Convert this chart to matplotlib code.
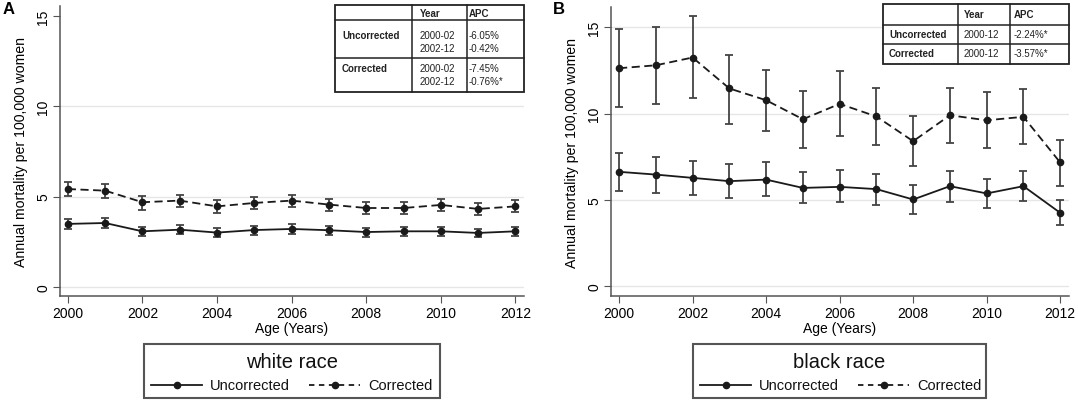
import numpy as np
import matplotlib.pyplot as plt
from matplotlib.patches import Rectangle
from matplotlib.lines import Line2D

plt.rcParams['font.family'] = ['Liberation Sans', 'DejaVu Sans']

# Data
years = np.arange(2000, 2013)

white_unc = [3.49, 3.54, 3.08, 3.17, 3.01, 3.15, 3.21, 3.14, 3.04, 3.08, 3.08, 2.99, 3.08]
white_unc_lo = [3.21, 3.27, 2.82, 2.91, 2.76, 2.90, 2.95, 2.89, 2.79, 2.83, 2.83, 2.75, 2.83]
white_unc_hi = [3.77, 3.81, 3.34, 3.43, 3.26, 3.40, 3.47, 3.39, 3.29, 3.33, 3.33, 3.23, 3.33]

white_cor = [5.42, 5.33, 4.69, 4.78, 4.46, 4.65, 4.78, 4.56, 4.37, 4.37, 4.54, 4.32, 4.46]
white_cor_lo = [5.02, 4.93, 4.28, 4.41, 4.11, 4.30, 4.43, 4.22, 4.04, 4.04, 4.20, 3.99, 4.13]
white_cor_hi = [5.79, 5.70, 5.02, 5.09, 4.82, 5.00, 5.11, 4.89, 4.71, 4.71, 4.87, 4.65, 4.79]

black_unc = [6.63, 6.47, 6.28, 6.09, 6.18, 5.70, 5.76, 5.63, 5.03, 5.80, 5.38, 5.80, 4.26]
black_unc_lo = [5.55, 5.43, 5.28, 5.09, 5.22, 4.80, 4.86, 4.74, 4.22, 4.91, 4.55, 4.93, 3.55]
black_unc_hi = [7.69, 7.51, 7.26, 7.07, 7.17, 6.63, 6.71, 6.51, 5.86, 6.69, 6.20, 6.69, 5.01]

black_cor = [12.62, 12.79, 13.24, 11.45, 10.77, 9.67, 10.56, 9.83, 8.40, 9.90, 9.61, 9.81, 7.17]
black_cor_lo = [10.39, 10.58, 10.87, 9.42, 8.98, 8.02, 8.71, 8.17, 6.97, 8.30, 7.98, 8.23, 5.82]
black_cor_hi = [14.86, 14.99, 15.65, 13.41, 12.50, 11.31, 12.45, 11.48, 9.83, 11.48, 11.25, 11.39, 8.46]

white_table = [['', 'Year', 'APC'],
               ['Uncorrected', '2000-02\n2002-12', '-6.05%\n-0.42%'],
               ['Corrected', '2000-02\n2002-12', '-7.45%\n-0.76%*']]
black_table = [['', 'Year', 'APC'],
               ['Uncorrected', '2000-12', '-2.24%*'],
               ['Corrected', '2000-12', '-3.57%*']]

W, H = 1078, 402
fig = plt.figure(figsize=(W / 100, H / 100), dpi=100)

DASH = (0, (4.5, 2.5))


def fx(px):
    return px / W


def fy(py):
    return 1 - py / H


def draw_panel(rect, ylim, xlim, grid_vals, unc, unc_lo, unc_hi, cor, cor_lo, cor_hi):
    ax = fig.add_axes(rect)
    for g in grid_vals:
        ax.axhline(g, color='#e6e6e6', lw=1.0, zorder=0)
    for vals, lo, hi, ls in [(unc, unc_lo, unc_hi, '-'), (cor, cor_lo, cor_hi, DASH)]:
        vals = np.array(vals)
        yerr = [vals - np.array(lo), np.array(hi) - vals]
        ax.errorbar(years, vals, yerr=yerr, fmt='none', ecolor='#444444',
                    elinewidth=1.3, capsize=3, capthick=1.3, zorder=2)
        ax.plot(years, vals, color='#1a1a1a', lw=1.3, linestyle=ls,
                marker='o', markersize=4.5, zorder=3)
    ax.set_xlim(*xlim)
    ax.set_ylim(*ylim)
    ax.set_xticks(range(2000, 2013, 2))
    ax.set_yticks([0, 5, 10, 15])
    ax.tick_params(axis='y', labelrotation=90, length=5, color='#555555', labelsize=10, pad=2)
    ax.tick_params(axis='x', length=5, color='#555555', labelsize=10, pad=2)
    for lab in ax.get_yticklabels():
        lab.set_va('center')
    for s in ['top', 'right']:
        ax.spines[s].set_visible(False)
    for s in ['left', 'bottom']:
        ax.spines[s].set_color('#555555')
        ax.spines[s].set_linewidth(1.1)
    ax.set_xlabel('Age (Years)', fontsize=10, labelpad=1)
    ax.set_ylabel('Annual mortality per 100,000 women', fontsize=10.2, labelpad=6)
    return ax


def draw_table(cells, x_edges, y_edges, line_rows, pads):
    x0, x1 = x_edges[0], x_edges[-1]
    y0, y1 = y_edges[0], y_edges[-1]
    fig.patches.append(Rectangle((fx(x0), fy(y1)), fx(x1 - x0), (y1 - y0) / H,
                                 transform=fig.transFigure, facecolor='white',
                                 edgecolor='#222222', lw=1.3, zorder=5))
    for xe in x_edges[1:-1]:
        fig.add_artist(Line2D([fx(xe), fx(xe)], [fy(y0), fy(y1)], color='#222222', lw=1.1, zorder=6))
    for ye in y_edges[1:-1]:
        fig.add_artist(Line2D([fx(x0), fx(x1)], [fy(ye), fy(ye)], color='#222222', lw=1.1, zorder=6))
    for r, row in enumerate(cells):
        for c, txt in enumerate(row):
            if not txt:
                continue
            weight = 'bold' if (r == 0 or c == 0) else 'normal'
            fig.text(fx(x_edges[c] + pads[c]), fy(line_rows[r]), txt, fontsize=7.0, fontweight=weight,
                     va='top', ha='left', linespacing=1.35, zorder=7, color='#222222')


def draw_legend(title, x0, x1, y0=345, y1=399):
    fig.patches.append(Rectangle((fx(x0), fy(y1)), fx(x1 - x0), (y1 - y0) / H,
                                 transform=fig.transFigure, facecolor='white',
                                 edgecolor='#555555', lw=1.5, zorder=5))
    fig.text(fx((x0 + x1) / 2), fy(363), title, fontsize=14.5, ha='center', va='center',
             color='#111111', zorder=6)
    ym = 386
    for (h0, h1, tx), lab, ls in [((7, 58, 66), 'Uncorrected', '-'), ((165, 216, 224), 'Corrected', (0, (3, 2.5)))]:
        fig.add_artist(Line2D([fx(x0 + h0), fx(x0 + (h0 + h1) / 2), fx(x0 + h1)], [fy(ym)] * 3,
                              color='#1a1a1a', lw=1.3, linestyle=ls, marker='o', markersize=4.5,
                              markevery=[1], zorder=6))
        fig.text(fx(x0 + tx), fy(ym), lab, fontsize=10.5, ha='left', va='center',
                 color='#111111', zorder=6)


# Panel A: white race
axA = draw_panel([fx(60), fy(297), fx(524 - 60), (297 - 7) / H], (-0.5, 15.55),
                 (1999.79, 2012.23), [0, 5, 10],
                 white_unc, white_unc_lo, white_unc_hi, white_cor, white_cor_lo, white_cor_hi)
# Panel B: black race
axB = draw_panel([fx(611), fy(297), fx(1069 - 611), (297 - 8) / H], (-0.55, 16.16),
                 (1999.78, 2012.24), [0, 5, 10, 15],
                 black_unc, black_unc_lo, black_unc_hi, black_cor, black_cor_lo, black_cor_hi)

draw_table(white_table, [335, 412, 467, 524], [6, 21, 59, 93], [9, 31, 64], [7, 8, 2])
draw_table(black_table, [883, 958, 1010, 1069], [5, 26, 45, 65], [10, 30, 49], [6, 6, 4])

fig.text(fx(3), fy(9), 'A', fontsize=12, fontweight='bold', va='center', ha='left')
fig.text(fx(553), fy(9), 'B', fontsize=12, fontweight='bold', va='center', ha='left')

draw_legend('white race', 144, 440)
draw_legend('black race', 693, 986)

fig.savefig('out.png', dpi=100)
